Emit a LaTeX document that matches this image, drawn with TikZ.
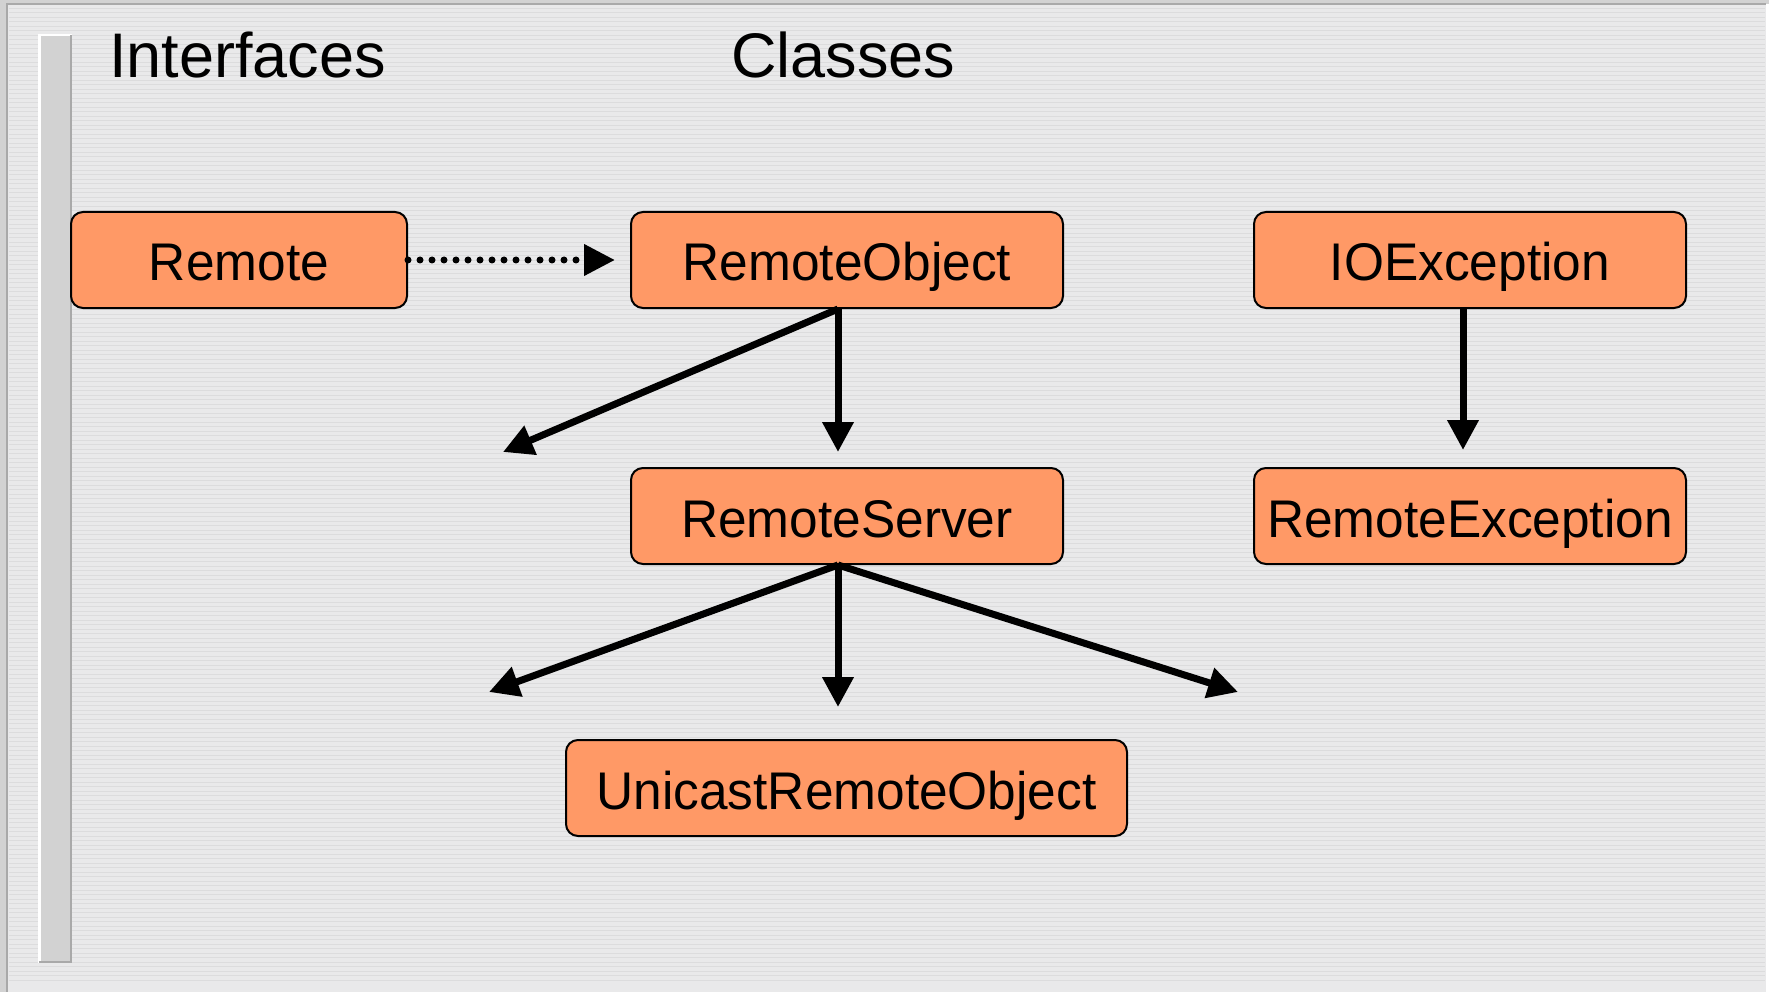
\documentclass[tikz,border=0pt]{standalone}
\usepackage{fontspec}
\setmainfont{Liberation Sans}
\newfontfamily\boxfont{Liberation Sans}[FakeStretch=0.97]
\usetikzlibrary{arrows.meta}
\definecolor{boxorange}{HTML}{FF9966}
\definecolor{bgcol}{HTML}{E9E9EA}
\definecolor{marble}{HTML}{D2D2D2}
\definecolor{framegray}{HTML}{A9A9A9}
\tikzset{
  classbox/.style={draw=black, line width=2pt, fill=boxorange, rounded corners=12pt,
    minimum height=96pt, text height=42pt, text depth=0pt, inner sep=0pt,
    font=\boxfont\fontsize{53}{60}\selectfont},
  heading/.style={anchor=base west, inner sep=0pt, font=\fontsize{63}{70}\selectfont},
  inherit/.style={line width=7pt, -{Triangle[length=30pt,width=30pt]}},
  implements/.style={line width=7pt, line cap=round, dash pattern=on 0pt off 12pt,
    -{Triangle[length=31pt,width=30pt]}}
}
\begin{document}
\begin{tikzpicture}[x=1pt,y=-1pt]
\useasboundingbox (0,0) rectangle (1769,992);
% background and frame
\fill[marble] (0,0) rectangle (1769,992);
\fill[bgcol] (7,4) rectangle (1766,992);
\fill[white] (1766,4) rectangle (1769,992);
\draw[framegray, line width=2pt] (7,992) -- (7,4) -- (1766,4);
% textured stripes
\foreach \i in {0,...,216} {
  \pgfmathsetmacro{\yy}{8+4.5*\i}
  \draw[gray, opacity=0.12, line width=0.8pt] (9,\yy) -- (1765,\yy);
}
% vertical marble bar
\fill[marble] (38,35) rectangle (72,963);
\draw[white, line width=2.5pt] (39.5,963) -- (39.5,35) -- (72,35);
\draw[framegray, line width=2pt] (71,35) -- (71,962) -- (39,962);
% headings
\node[heading] (hI) at (109,78) {Interfaces};
\node[heading] (hC) at (731,78) {Classes};
% class boxes
\node[classbox, minimum width=336pt] (remote) at (239,260) {Remote};
\node[classbox, minimum width=432pt] (robj) at (847,260) {RemoteObject};
\node[classbox, minimum width=432pt] (ioe) at (1470,260) {IOException};
\node[classbox, minimum width=432pt] (rsrv) at (847,516) {RemoteServer};
\node[classbox, minimum width=432pt] (rexc) at (1470,516) {RemoteException};
\node[classbox, minimum width=561pt] (uro) at (846.5,788) {UnicastRemoteObject};
% free arrow ends
\coordinate (ro1) at (503,452);
\coordinate (ro2) at (838,452);
\coordinate (rs1) at (489,692);
\coordinate (rs2) at (838,707);
\coordinate (rs3) at (1238,692);
\coordinate (imp) at (615,260);
% connectors
\draw[implements] (remote.east) -- (imp);
\draw[inherit] ([xshift=-9pt]robj.south) -- (ro1);
\draw[inherit] ([xshift=-9pt]robj.south) -- (ro2);
\draw[inherit] ([xshift=-7pt]ioe.south) -- ([xshift=-7pt,yshift=17pt]rexc.north);
\draw[inherit] ([xshift=-9pt]rsrv.south) -- (rs1);
\draw[inherit] ([xshift=-9pt]rsrv.south) -- (rs2);
\draw[inherit] ([xshift=-9pt]rsrv.south) -- (rs3);
\end{tikzpicture}
\end{document}
